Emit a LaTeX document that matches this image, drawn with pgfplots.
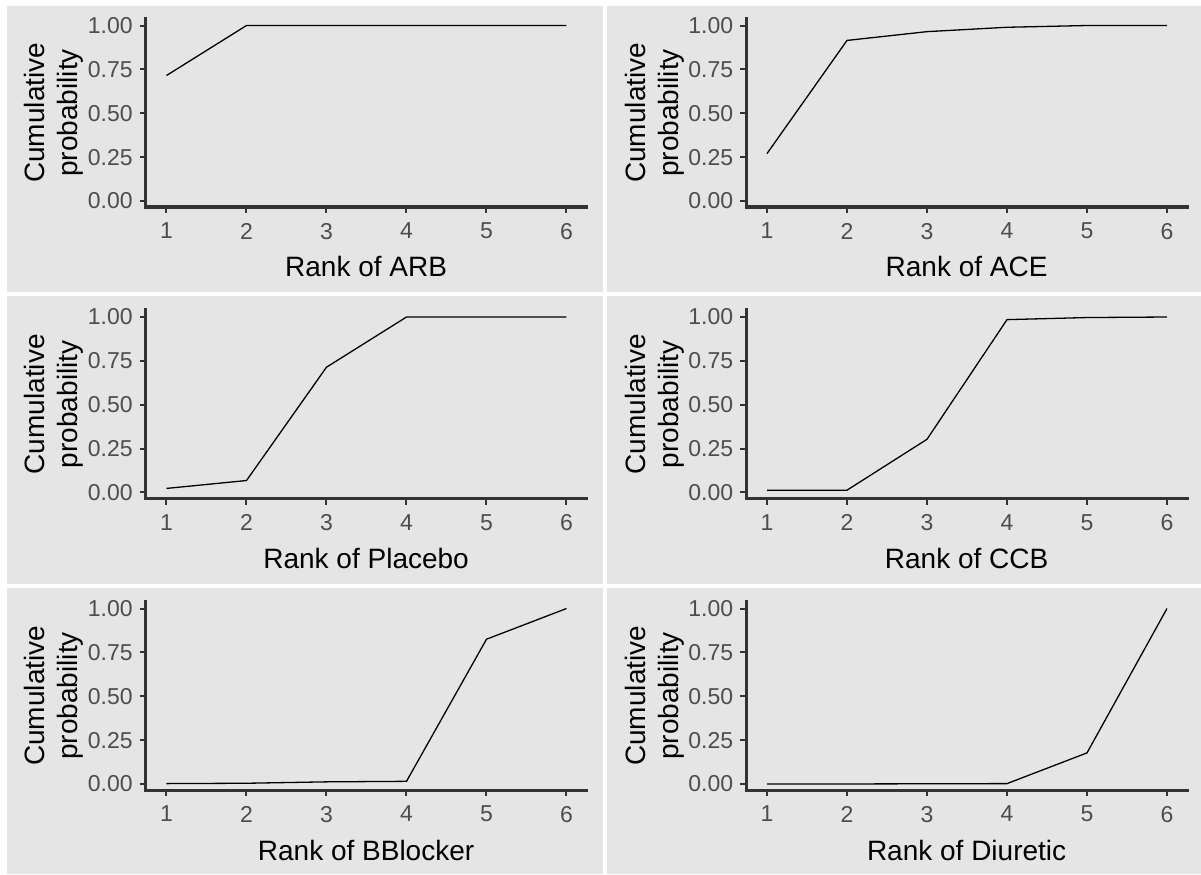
\documentclass[border=0pt]{standalone}
\usepackage{fontspec}
\setmainfont{Liberation Sans}
\usepackage{pgfplots}
\pgfplotsset{compat=1.18}
\definecolor{panelgray}{RGB}{229,229,229}
\definecolor{axisgray}{RGB}{51,51,51}
\definecolor{tickgray}{RGB}{77,77,77}
\pgfplotsset{
  panel/.style={
    scale only axis, width=220.4pt, height=94.3pt,
    xmin=0.74, xmax=6.25, ymin=-0.035, ymax=1.04,
    axis x line*=bottom, axis y line*=left,
    axis line style={draw=axisgray, line width=1.6pt, -, line cap=rect},
    xtick={1,2,3,4,5,6}, ytick={0,0.25,0.5,0.75,1},
    yticklabel style={/pgf/number format/.cd, fixed, fixed zerofill, precision=2},
    xticklabel style={yshift=-1.5pt},
    tick align=outside, major tick length=3pt,
    tick style={draw=axisgray, line width=1pt},
    ticklabel style={font=\fontsize{11.5}{13}\selectfont, text=tickgray},
    /pgf/number format/assume math mode=true,
    every axis x label/.style={at={(axis description cs:0.5,0)}, anchor=base, yshift=-34.95pt, font=\fontsize{14}{16.5}\selectfont, text=black},
    every axis y label/.style={at={(axis description cs:-0.14,0.5)}, rotate=90, anchor=south, inner sep=0pt, align=center, font=\fontsize{14}{16.5}\selectfont, text=black},
    ylabel={Cumulative\\probability},
    clip=false,
  },
  curve/.style={black, line width=0.65pt, mark=none},
}
\begin{document}
\begin{tikzpicture}
\fill[white] (0,0) rectangle (600.5pt,437pt);
\fill[panelgray] (3.5pt,291pt) rectangle (301.5pt,434pt);
\fill[panelgray] (303.5pt,291pt) rectangle (600.5pt,434pt);
\fill[panelgray] (3.5pt,145pt) rectangle (301.5pt,289pt);
\fill[panelgray] (303.5pt,145pt) rectangle (600.5pt,289pt);
\fill[panelgray] (3.5pt,0pt) rectangle (301.5pt,143pt);
\fill[panelgray] (303.5pt,0pt) rectangle (600.5pt,143pt);

\begin{axis}[panel, at={(72.85pt,333.45pt)}, anchor=south west, xlabel={Rank of ARB}]
\addplot[curve] coordinates {(1,0.715)(2,1)(3,1)(4,1)(5,1)(6,1)};
\end{axis}
\begin{axis}[panel, at={(373.1pt,333.45pt)}, anchor=south west, xlabel={Rank of ACE}]
\addplot[curve] coordinates {(1,0.27)(2,0.915)(3,0.965)(4,0.99)(5,1)(6,1)};
\end{axis}
\begin{axis}[panel, at={(72.85pt,187.7pt)}, anchor=south west, xlabel={Rank of Placebo}]
\addplot[curve] coordinates {(1,0.023)(2,0.068)(3,0.714)(4,1)(5,1)(6,1)};
\end{axis}
\begin{axis}[panel, at={(373.1pt,187.7pt)}, anchor=south west, xlabel={Rank of CCB}]
\addplot[curve] coordinates {(1,0.012)(2,0.013)(3,0.303)(4,0.985)(5,0.997)(6,1)};
\end{axis}
\begin{axis}[panel, at={(72.85pt,41.95pt)}, anchor=south west, xlabel={Rank of BBlocker}]
\addplot[curve] coordinates {(1,0.002)(2,0.004)(3,0.012)(4,0.015)(5,0.825)(6,1)};
\end{axis}
\begin{axis}[panel, at={(373.1pt,41.95pt)}, anchor=south west, xlabel={Rank of Diuretic}]
\addplot[curve] coordinates {(1,0)(2,0)(3,0.001)(4,0.002)(5,0.177)(6,1)};
\end{axis}
\end{tikzpicture}
\end{document}
